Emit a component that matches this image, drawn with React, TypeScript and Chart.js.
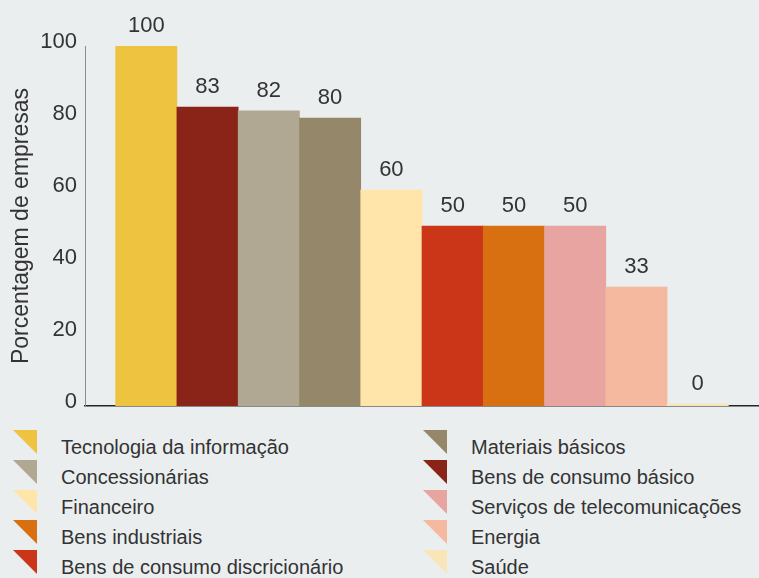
import React, { useEffect, useRef } from "react";
import { Chart, registerables } from "chart.js";

Chart.register(...registerables);

const categories = [
  "Tecnologia da informação",
  "Bens de consumo básico",
  "Concessionárias",
  "Materiais básicos",
  "Financeiro",
  "Bens de consumo discricionário",
  "Bens industriais",
  "Serviços de telecomunicações",
  "Energia",
  "Saúde",
];

const values = [100, 83, 82, 80, 60, 50, 50, 50, 33, 0];

const yTicks = [0, 20, 40, 60, 80, 100];

const yTitle = "Porcentagem de empresas";

const legendOrder = [
  "Tecnologia da informação",
  "Concessionárias",
  "Financeiro",
  "Bens industriais",
  "Bens de consumo discricionário",
  "Materiais básicos",
  "Bens de consumo básico",
  "Serviços de telecomunicações",
  "Energia",
  "Saúde",
];

const colorOf: Record<string, string> = {
  "Tecnologia da informação": "#EEC340",
  "Bens de consumo básico": "#8A2318",
  "Concessionárias": "#B1A893",
  "Materiais básicos": "#94876A",
  "Financeiro": "#FFE5A9",
  "Bens de consumo discricionário": "#CB3518",
  "Bens industriais": "#D87012",
  "Serviços de telecomunicações": "#E8A4A1",
  "Energia": "#F4B99E",
  "Saúde": "#F9E6B8",
};

const FONT = '"Liberation Sans", Arial, Helvetica, sans-serif';
const TEXT = "#333333";
const BG = "#EAEEEF";

const valueLabels = {
  id: "valueLabels",
  afterDatasetsDraw(chart: any) {
    const ctx = chart.ctx;
    const meta = chart.getDatasetMeta(0);
    ctx.save();
    ctx.font = `22px ${FONT}`;
    ctx.fillStyle = TEXT;
    ctx.textAlign = "center";
    ctx.textBaseline = "alphabetic";
    meta.data.forEach((bar: any, i: number) => {
      ctx.fillText(String(values[i]), bar.x, bar.y - 14);
    });
    ctx.restore();
  },
};

export default function App() {
  const canvasRef = useRef<HTMLCanvasElement | null>(null);

  useEffect(() => {
    document.body.style.margin = "0";
    document.body.style.background = BG;
    const canvas = canvasRef.current;
    if (!canvas) return;
    Chart.defaults.font.family = FONT;
    const chart = new Chart(canvas, {
      type: "bar",
      data: {
        labels: categories,
        datasets: [
          {
            data: categories.map((c, i) => ({ x: i, y: values[i] })),
            backgroundColor: categories.map((c) => colorOf[c]),
            borderWidth: 0,
            barPercentage: 1,
            categoryPercentage: 1,
            minBarLength: 2,
          },
        ],
      },
      options: {
        animation: false,
        responsive: false,
        maintainAspectRatio: false,
        layout: { autoPadding: false, padding: { left: 0, right: 0, top: 46, bottom: 14 } },
        plugins: {
          legend: { display: false },
          tooltip: { enabled: false },
        },
        scales: {
          x: {
            type: "linear",
            offset: false,
            bounds: "data",
            min: -1,
            max: categories.length,
            grid: { display: false, drawTicks: false, offset: false },
            ticks: { display: false },
            border: { display: true, color: "#262626", width: 1.5 },
            afterFit: (s: any) => {
              s.height = 0;
              s.paddingLeft = 0;
              s.paddingRight = 0;
            },
          },
          y: {
            min: 0,
            max: 100,
            grid: { display: false, drawTicks: false },
            border: { display: true, color: "#8c8c8c", width: 1 },
            afterBuildTicks: (s: any) => {
              s.ticks = yTicks.map((v) => ({ value: v }));
            },
            afterFit: (s: any) => {
              s.width = 85;
              s.paddingTop = 0;
              s.paddingBottom = 0;
            },
            ticks: {
              padding: 8,
              labelOffset: -4,
              color: TEXT,
              font: { size: 22, family: FONT },
            },
            title: {
              display: true,
              text: yTitle,
              color: TEXT,
              font: { size: 23, family: FONT },
              padding: { top: 8, bottom: 0 },
            },
          },
        },
      },
      plugins: [valueLabels],
    } as any);
    return () => chart.destroy();
  }, []);

  return (
    <div
      style={{
        position: "relative",
        width: 759,
        height: 578,
        background: BG,
        overflow: "hidden",
        fontFamily: FONT,
      }}
    >
      <canvas
        ref={canvasRef}
        width={759}
        height={420}
        style={{ position: "absolute", left: 0, top: 0, width: 759, height: 420 }}
      />
      {legendOrder.map((name, i) => {
        const col = i < 5 ? 0 : 1;
        const row = i % 5;
        const markerLeft = col === 0 ? 13 : 423;
        const textLeft = col === 0 ? 61 : 471;
        return (
          <React.Fragment key={name}>
            <div
              style={{
                position: "absolute",
                left: markerLeft,
                top: 430 + row * 30,
                width: 24,
                height: 24,
                background: colorOf[name],
                clipPath: "polygon(0 0, 100% 0, 100% 100%)",
              }}
            />
            <div
              style={{
                position: "absolute",
                left: textLeft,
                top: 432 + row * 30,
                lineHeight: "30px",
                fontSize: 20,
                color: TEXT,
                whiteSpace: "nowrap",
              }}
            >
              {name}
            </div>
          </React.Fragment>
        );
      })}
    </div>
  );
}
